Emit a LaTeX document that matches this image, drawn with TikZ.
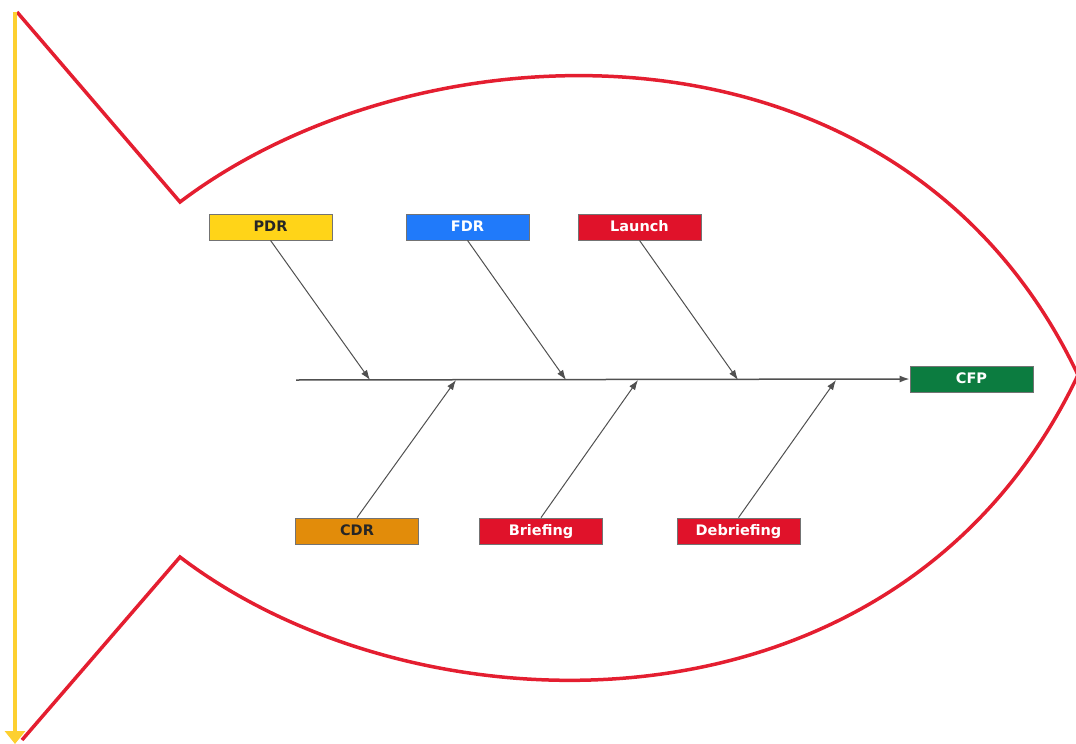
\documentclass[tikz,border=0pt]{standalone}
\usepackage{fontspec}
\setmainfont{DejaVu Sans}
\usetikzlibrary{arrows.meta,positioning}
\definecolor{fishred}{RGB}{228,30,48}
\definecolor{tailyellow}{RGB}{253,208,48}
\definecolor{pdryellow}{RGB}{255,212,24}
\definecolor{fdrblue}{RGB}{32,122,250}
\definecolor{launchred}{RGB}{224,18,42}
\definecolor{cdrorange}{RGB}{226,140,10}
\definecolor{cfpgreen}{RGB}{12,124,64}
\definecolor{bonegray}{RGB}{80,80,80}

\begin{document}
\begin{tikzpicture}[x=1pt,y=-1pt,>=Latex]
  \tikzset{
    box/.style={rectangle,draw=black!55,line width=0.8pt,minimum width=123pt,minimum height=26pt,inner sep=0pt,
      text height=11pt,text depth=3pt,font=\fontsize{14.5}{16}\selectfont\bfseries},
    dark/.style={box,text=black!85}, light/.style={box,text=white},
    bone/.style={draw=bonegray,line width=1pt,-{Latex[length=10pt,width=7pt]}},
    spine/.style={draw=bonegray,line width=1.5pt,-{Latex[length=10pt,width=7pt]}},
    outline/.style={draw=fishred,line width=3.5pt,line join=miter},
    tail/.style={draw=tailyellow,line width=4pt,-{Triangle[length=13pt,width=20pt]}},
  }
  \useasboundingbox (0,0) rectangle (1076,744);

  % fish body
  \draw[outline] (17,12) -- (180,202)
      .. controls (420,20) and (900,0) .. (1078,375)
      .. controls (900,750) and (420,740) .. (180,557) -- (22,740);

  % tail arrow
  \coordinate (ttop) at (15,12); \coordinate (tbot) at (15,744);
  \draw[tail] (ttop) -- (tbot);

  % causes and effect
  \node[dark,fill=pdryellow] (pdr) at (270.5,227) {PDR};
  \node[light,fill=fdrblue] (fdr) at (467.5,227) {FDR};
  \node[light,fill=launchred] (launch) at (639.5,227) {Launch};
  \node[dark,fill=cdrorange] (cdr) at (357,531) {CDR};
  \node[light,fill=launchred] (brief) at (541,531) {Briefing};
  \node[light,fill=launchred] (debrief) at (738.5,531) {Debriefing};
  \node[light,fill=cfpgreen] (cfp) at (971.5,379) {CFP};

  % spine and bones
  \coordinate (head) at (296,380);
  \coordinate (j1) at (370,380); \coordinate (j2) at (456,380);
  \coordinate (j3) at (566,380); \coordinate (j4) at (638,380);
  \coordinate (j5) at (738,380); \coordinate (j6) at (836,380);
  \draw[spine] (head) -- (cfp.west);
  \draw[bone] (pdr.south) -- (j1);
  \draw[bone] (fdr.south) -- (j3);
  \draw[bone] (launch.south) -- (j5);
  \draw[bone] (cdr.north) -- (j2);
  \draw[bone] (brief.north) -- (j4);
  \draw[bone] (debrief.north) -- (j6);
\end{tikzpicture}
\end{document}
